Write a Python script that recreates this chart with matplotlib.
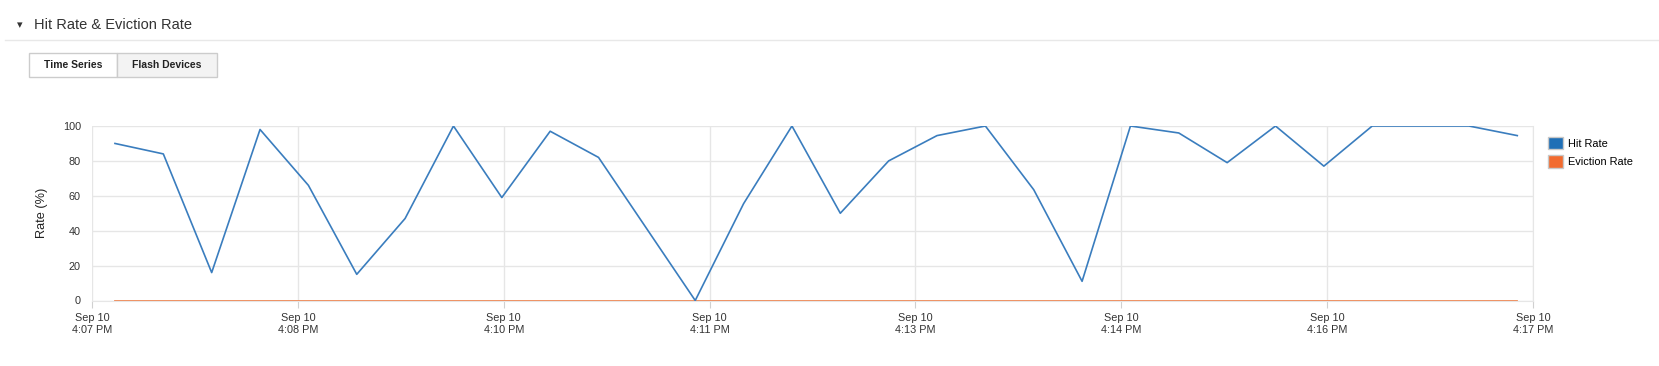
import numpy as np
import matplotlib
matplotlib.use("Agg")
import matplotlib.pyplot as plt
from matplotlib.patches import Patch, Rectangle
from matplotlib.lines import Line2D

plt.rcParams['font.family'] = ['Liberation Sans', 'DejaVu Sans']

# sample times, seconds after 4:07:00 PM
times = [10, 30, 50, 70, 90, 110, 130, 150, 170, 190,
         210, 230, 250, 270, 290, 310, 330, 350, 370, 390,
         410, 430, 450, 470, 490, 510, 530, 550, 570, 590]
hit_rate = [90, 84, 16, 98, 66, 15, 47, 100, 59, 97,
            82, 41, 0, 55.5, 100, 50, 80, 94.5, 100, 63.5,
            11, 100, 96, 79, 100, 77, 100, 100, 100, 94.5]
eviction_rate = [0] * 30

tick_labels = ["Sep 10\n4:07 PM", "Sep 10\n4:08 PM", "Sep 10\n4:10 PM", "Sep 10\n4:11 PM",
               "Sep 10\n4:13 PM", "Sep 10\n4:14 PM", "Sep 10\n4:16 PM", "Sep 10\n4:17 PM"]
y_ticks = [0, 20, 40, 60, 80, 100]

W, H = 1659, 366
fig = plt.figure(figsize=(W / 100, H / 100), dpi=100, facecolor='w')

# header
fig.text(20 / W, 1 - 25 / H, u"\u25BE", fontsize=8, color='#333333',
         ha='center', va='center', family=['DejaVu Sans'])
fig.text(34 / W, 1 - 25 / H, "Hit Rate & Eviction Rate", fontsize=10.5,
         color='#333333', ha='left', va='center')
fig.add_artist(Line2D([5 / W, 1], [1 - 40 / H, 1 - 40 / H], color='#e8e8e8', lw=1))

# tab buttons
for (x0, x1, txt, fc) in [(29, 117, "Time Series", 'white'), (117, 217, "Flash Devices", '#f3f3f3')]:
    fig.add_artist(Rectangle((x0 / W, 1 - 77 / H), (x1 - x0) / W, 24 / H,
                             transform=fig.transFigure, facecolor=fc,
                             edgecolor='#cccccc', lw=1))
    fig.text((x0 + x1) / 2 / W, 1 - 65 / H, txt, fontsize=7.5, fontweight='bold',
             color='#222222', ha='center', va='center')

# chart
ax = fig.add_axes([92 / W, 1 - 300.5 / H, 1441 / W, 174.5 / H])
xmin, xmax = 0.5, 596.5
ax.plot(times, eviction_rate, color='#ee8a58', lw=1.3, zorder=3, label='Eviction Rate')
ax.plot(times, hit_rate, color='#3a7dbe', lw=1.2, zorder=4, label='Hit Rate')

ax.set_xlim(xmin, xmax)
ax.set_ylim(0, 100)
ax.set_xticks(np.linspace(xmin, xmax, len(tick_labels)))
ax.set_xticklabels(tick_labels, linespacing=1.3)
ax.set_yticks(y_ticks)
ax.grid(True, color='#e6e6e6', lw=1)
ax.set_axisbelow(True)
for side in ['top', 'left']:
    ax.spines[side].set_visible(False)
ax.spines['right'].set_color('#e6e6e6')
ax.spines['bottom'].set_color('#e6e6e6')
ax.tick_params(axis='x', length=5, color='#d0d0d0', pad=4, labelsize=7.8, labelcolor='#333333')
ax.tick_params(axis='y', length=0, pad=8, labelsize=7.8, labelcolor='#333333')
ax.set_ylabel("Rate (%)", fontsize=9.2, color='#222222')
ax.yaxis.set_label_coords(-0.0303, 0.5)

handles = [Patch(facecolor='#1f6fb6', edgecolor='#c8c8c8', lw=1, label='Hit Rate'),
           Patch(facecolor='#f26b2f', edgecolor='#c8c8c8', lw=1, label='Eviction Rate')]
fig.legend(handles=handles, loc='upper left', bbox_to_anchor=(1548 / W, 1 - 137 / H),
           frameon=False, fontsize=7.9, borderpad=0, borderaxespad=0,
           handlelength=1.35, handleheight=1.35, handletextpad=0.45, labelspacing=0.55)

fig.savefig("out.png", dpi=100, facecolor='w')
